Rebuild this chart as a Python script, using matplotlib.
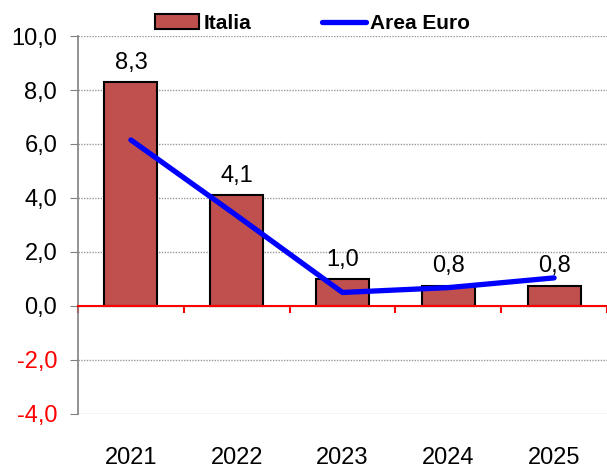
import numpy as np
import matplotlib
matplotlib.use("Agg")
import matplotlib.pyplot as plt

plt.rcParams["font.family"] = ["Liberation Sans", "DejaVu Sans"]

years = ["2021", "2022", "2023", "2024", "2025"]
italia = [8.3, 4.1, 1.0, 0.75, 0.75]
italia_labels = ["8,3", "4,1", "1,0", "0,8", "0,8"]
area_euro = [6.15, 3.35, 0.5, 0.68, 1.04]
y_ticks = [-4, -2, 0, 2, 4, 6, 8, 10]

BAR_COLOR = "#C0504D"
LINE_COLOR = "#0000FF"

fig = plt.figure(figsize=(6.07, 4.72), dpi=100)
ax = fig.add_axes([0.1285, 0.123, 0.8715, 0.8007])

x = np.arange(len(years))
bars = ax.bar(x, italia, width=0.5, color=BAR_COLOR, edgecolor="black",
              linewidth=1.5, zorder=3, label="Italia")
line, = ax.plot(x, area_euro, color=LINE_COLOR, linewidth=3.8,
                solid_capstyle="round", zorder=4, label="Area Euro")

for xi, val, lab in zip(x, italia, italia_labels):
    ax.annotate(lab, (xi, val), xytext=(0, 6), textcoords="offset points",
                ha="center", va="bottom", fontsize=17)

ax.set_xlim(-0.5, len(years) - 0.5)
ax.set_ylim(-4, 10)
ax.set_yticks(y_ticks)
ax.set_yticklabels([f"{v:.1f}".replace(".", ",") for v in y_ticks], fontsize=17)
for lab, v in zip(ax.get_yticklabels(), y_ticks):
    lab.set_color("red" if v < 0 else "black")
ax.tick_params(axis="y", length=6, color="#808080", pad=9)
ax.grid(axis="y", color="#999999", linestyle=(0, (1, 1)), linewidth=1.0)

# zero line with category separators
for s in ["top", "right"]:
    ax.spines[s].set_visible(False)
ax.spines["left"].set_color("#808080")
ax.spines["left"].set_linewidth(1.2)
ax.spines["bottom"].set_position(("data", 0))
ax.spines["bottom"].set_color("red")
ax.spines["bottom"].set_linewidth(1.5)
ax.spines["bottom"].set_zorder(5)
ax.set_xticks(x)
ax.set_xticklabels([])
ax.tick_params(axis="x", which="major", length=0)
ax.set_xticks(np.arange(len(years) + 1) - 0.5, minor=True)
ax.tick_params(axis="x", which="minor", length=5, width=1.5, color="red", direction="out")

# year labels at the bottom
sec = ax.secondary_xaxis("bottom")
sec.set_xticks(x)
sec.set_xticklabels(years, fontsize=17)
sec.tick_params(length=0, pad=24)
sec.spines["bottom"].set_visible(False)

fig.legend(handles=[bars, line], loc="upper center", bbox_to_anchor=(0.515, 1.01),
           ncol=2, frameon=False, prop={"weight": "bold", "size": 15},
           handlelength=2.1, handletextpad=0.2, columnspacing=3.4)

fig.savefig("out.png", dpi=100)
